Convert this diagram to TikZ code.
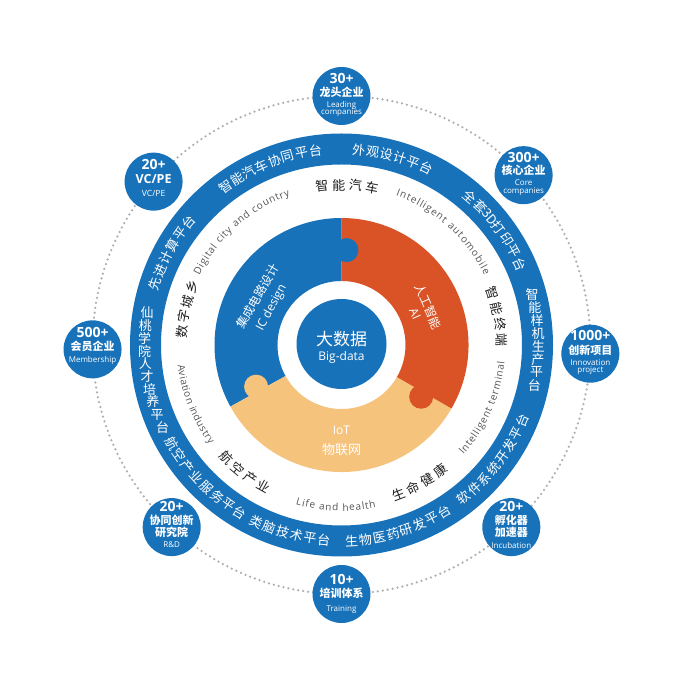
\documentclass[tikz,border=0pt]{standalone}
\usepackage{fontspec}
\setmainfont{Open Sans}
\newfontfamily\cjk{Noto Sans CJK SC}
\usetikzlibrary{decorations.text}
\definecolor{mblue}{RGB}{24,114,186}
\definecolor{morange}{RGB}{217,83,38}
\definecolor{mlight}{RGB}{246,195,125}
\definecolor{mdot}{RGB}{175,175,175}
\definecolor{mgray}{RGB}{85,85,85}
\definecolor{mtext}{RGB}{30,30,30}
\tikzset{
 badge/.style={circle, fill=mblue, minimum size=58pt, inner sep=0pt},
 bnum/.style={text=white, inner sep=0pt, font=\bfseries\fontsize{14}{14}\selectfont},
 bcn/.style={text=white, inner sep=0pt, font=\cjk\bfseries\fontsize{11}{12}\selectfont},
 ben/.style={text=white, inner sep=0pt, font=\fontsize{8}{9}\selectfont},
 ringtxt/.style={text=white, inner sep=0pt, font=\cjk\fontsize{13}{13}\selectfont},
 midtxt/.style={text=mtext, inner sep=0pt, font=\cjk\fontsize{13}{13}\selectfont},
 dtxt/.style={text=white, inner sep=0pt, font=\cjk\fontsize{12}{12}\selectfont},
 dtxten/.style={text=white, inner sep=0pt, font=\fontsize{12}{12}\selectfont},
}
% clockwise text: name, start angle, step, radius, style, list
\newcommand\cwarc[6]{%
 \foreach \ch [count=\i] in {#6} {%
   \pgfmathsetmacro\ang{#2-(\i-1)*#3}%
   \node[#5, rotate=\ang-90] (#1-\i) at (\ang:#4) {\ch};
 }}
% counter-clockwise text
\newcommand\ccwarc[6]{%
 \foreach \ch [count=\i] in {#6} {%
   \pgfmathsetmacro\ang{#2+(\i-1)*#3}%
   \node[#5, rotate=\ang+90] (#1-\i) at (\ang:#4) {\ch};
 }}
% vertical upright stack: name, side, dy0, step, radius, list
\newcommand\vstack[6]{%
 \foreach \ch [count=\i] in {#6} {%
   \pgfmathsetmacro\yy{#3-(\i-1)*#4}%
   \pgfmathsetmacro\xx{#2*#5*sqrt(1-(\yy/#5)*(\yy/#5))}%
   \node[ringtxt] (#1-\i) at (\xx,\yy) {\ch};
 }}
\newcommand\grayarc[5]{% start, end, radius, size, text
 \path[decorate, decoration={text along path, text align={fit to path}, text color=mgray,
   text={|\fontsize{#4}{#4}\selectfont|#5}}]
   (#1:#3) arc[start angle=#1, end angle=#2, radius=#3];
}
\begin{document}
\begin{tikzpicture}[x=1pt,y=1pt]
\useasboundingbox (0,0) rectangle (688,688);
\fill[white] (0,0) rectangle (688,688);
\begin{scope}[shift={(341.5,343)}]
% dotted orbit
\draw[mdot, line width=2.5pt, line cap=round, dash pattern=on 0pt off 5pt] (0,0) circle[radius=249];
% outer ring
\draw[mblue, line width=31pt] (0,0) circle[radius=196];
% puzzle donut
\fill[mblue] (90:127) arc[start angle=90, end angle=209, radius=127] -- (209:64) arc[start angle=209, end angle=90, radius=64] -- cycle;
\fill[mlight] (209:127) arc[start angle=209, end angle=330, radius=127] -- (330:64) arc[start angle=330, end angle=209, radius=64] -- cycle;
\fill[morange] (-30:127) arc[start angle=-30, end angle=90, radius=127] -- (90:64) arc[start angle=90, end angle=-30, radius=64] -- cycle;
\fill[mblue] (87:95) circle[radius=12];
\fill[morange] (-33:95) circle[radius=12];
\fill[mlight] (206:95) circle[radius=12];
% core
\node[circle, fill=mblue, minimum size=90pt, inner sep=0pt] (core) at (0,1) {};
\node[text=white, inner sep=0pt, font=\cjk\fontsize{17}{17}\selectfont] (coreCN) at (0,6) {大数据};
\node[text=white, inner sep=0pt, font=\fontsize{12}{12}\selectfont] (coreEN) at (0,-12) {Big-data};
% donut texts
\node[dtxt, rotate=60] (ic1) at (150:97) {集成电路设计};
\node[dtxten, rotate=62] (ic2) at (152:79) {IC design};
\node[dtxt, rotate=-66] (ai1) at (24:95) {人工智能};
\node[dtxten, rotate=-66] (ai2) at (23:80) {AI};
\node[dtxten] (iot1) at (0,-85) {IoT};
\node[dtxt, font=\cjk\fontsize{13}{13}\selectfont] (iot2) at (0,-105) {物联网};
% middle band
\cwarc{m1}{97}{6}{160}{midtxt}{智,能,汽,车}
\cwarc{m2}{175.25}{5.5}{160}{midtxt}{数,字,城,乡}
\cwarc{m3}{19}{5.7}{160}{midtxt}{智,能,终,端}
\ccwarc{m4}{224.5}{5.5}{161}{midtxt}{航,空,产,业}
\ccwarc{m5}{291}{5.7}{160}{midtxt}{生,命,健,康}
\grayarc{154}{109}{158}{10}{Digital city and country}
\grayarc{70}{26}{159}{10}{Intelligent automobile}
\grayarc{-42}{-6}{164}{10}{Intelligent terminal}
\grayarc{-106}{-78}{166}{10}{Life and health}
\grayarc{187}{217}{165}{10}{Aviation industry}
% ring texts
\cwarc{r1}{161.75}{4.1}{196}{ringtxt}{先,进,计,算,平,台}
\cwarc{r2}{126.35}{4.1}{196}{ringtxt}{智,能,汽,车,协,同,平,台}
\cwarc{r3}{84.95}{4.1}{196}{ringtxt}{外,观,设,计,平,台}
\cwarc{r4}{49}{4.1}{196}{ringtxt}{全,套,3D,打,印,平,台}
\ccwarc{r5}{210.15}{4.1}{196}{ringtxt}{航,空,产,业,服,务,平,台}
\ccwarc{r6}{244.35}{4.1}{196}{ringtxt}{类,脑,技,术,平,台}
\ccwarc{r7}{272.95}{4.1}{196}{ringtxt}{生,物,医,药,研,发,平,台}
\ccwarc{r8}{308.65}{4.1}{196}{ringtxt}{软,件,系,统,开,发,平,台}
\vstack{r9}{1}{50}{12.9}{197}{智,能,样,机,生,产,平,台}
\vstack{r10}{-1}{32}{12.7}{197}{仙,桃,学,院,人,才,培,养,平,台}
% badges
\node[badge] (b1) at (90:249) {};
\node[bnum] (b1a) at ([yshift=17pt]b1.center) {30+};
\node[bcn] (b1b) at ([yshift=4pt]b1.center) {龙头企业};
\node[ben] (b1c) at ([yshift=-9pt]b1.center) {Leading};
\node[ben] (b1d) at ([yshift=-17pt]b1.center) {companies};
\node[badge] (b2) at (43:249) {};
\node[bnum] (b2a) at ([yshift=18pt]b2.center) {300+};
\node[bcn] (b2b) at ([yshift=5pt]b2.center) {核心企业};
\node[ben] (b2c) at ([yshift=-7pt]b2.center) {Core};
\node[ben] (b2d) at ([yshift=-16pt]b2.center) {companies};
\node[badge] (b3) at (-2:249) {};
\node[bnum] (b3a) at ([yshift=18pt]b3.center) {1000+};
\node[bcn] (b3b) at ([yshift=3pt]b3.center) {创新项目};
\node[ben] (b3c) at ([yshift=-9pt]b3.center) {Innovation};
\node[ben] (b3d) at ([yshift=-17pt]b3.center) {project};
\node[badge] (b4) at (-47:249) {};
\node[bnum] (b4a) at ([yshift=21pt]b4.center) {20+};
\node[bcn] (b4b) at ([yshift=7pt]b4.center) {孵化器};
\node[bcn] (b4c) at ([yshift=-5pt]b4.center) {加速器};
\node[ben] (b4d) at ([yshift=-18pt]b4.center) {Incubation};
\node[badge] (b5) at (-90:249) {};
\node[bnum] (b5a) at ([yshift=15pt]b5.center) {10+};
\node[bcn] (b5b) at ([yshift=1pt]b5.center) {培训体系};
\node[ben] (b5c) at ([yshift=-16pt]b5.center) {Training};
\node[badge] (b6) at (227:249) {};
\node[bnum] (b6a) at ([yshift=21pt]b6.center) {20+};
\node[bcn] (b6b) at ([yshift=7pt]b6.center) {协同创新};
\node[bcn] (b6c) at ([yshift=-5pt]b6.center) {研究院};
\node[ben] (b6d) at ([yshift=-18pt]b6.center) {R\&D};
\node[badge] (b7) at (181:249) {};
\node[bnum] (b7a) at ([yshift=17pt]b7.center) {500+};
\node[bcn] (b7b) at ([yshift=3pt]b7.center) {会员企业};
\node[ben] (b7c) at ([yshift=-11pt]b7.center) {Membership};
\node[badge] (b8) at (139:249) {};
\node[bnum] (b8a) at ([yshift=17pt]b8.center) {20+};
\node[bnum, font=\bfseries\fontsize{12.5}{12}\selectfont] (b8b) at ([yshift=3pt]b8.center) {VC/PE};
\node[ben, font=\fontsize{8.5}{9}\selectfont] (b8c) at ([yshift=-12pt]b8.center) {VC/PE};
\end{scope}
\end{tikzpicture}
\end{document}
